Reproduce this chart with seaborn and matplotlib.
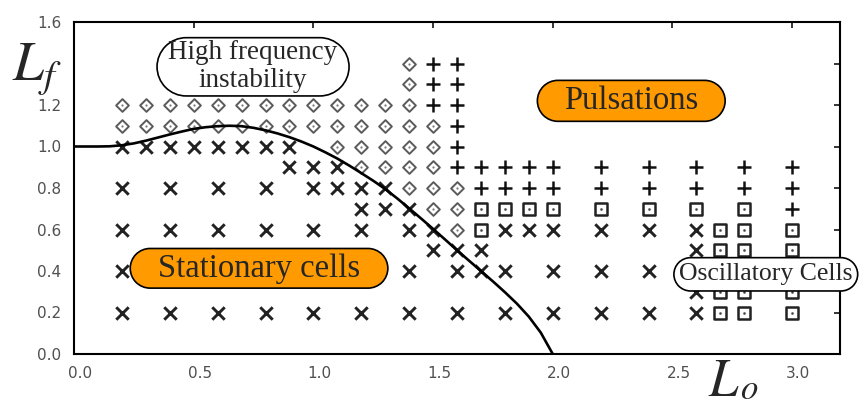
import numpy as np
import pandas as pd
import matplotlib
matplotlib.use("Agg")
import matplotlib.pyplot as plt
import seaborn as sns
from matplotlib.path import Path
from matplotlib.transforms import ScaledTranslation

# ---------------- data ----------------
# Stationary cells (x markers)
stationary_x = [0.2, 0.3, 0.4, 0.5, 0.6, 0.7, 0.8, 0.9,
                0.9, 1.0, 1.1,
                0.2, 0.4, 0.6, 0.8, 1.0, 1.1, 1.2, 1.3,
                1.2, 1.3, 1.4,
                0.2, 0.4, 0.6, 0.8, 1.0, 1.2, 1.4, 1.5, 1.8, 1.9, 2.0, 2.2, 2.4, 2.6,
                1.5, 1.6, 1.7, 2.6,
                0.2, 0.4, 0.6, 0.8, 1.0, 1.2, 1.4, 1.6, 1.7, 1.8, 2.0, 2.2, 2.4, 2.6,
                2.6,
                0.2, 0.4, 0.6, 0.8, 1.0, 1.2, 1.4, 1.6, 1.8, 2.0, 2.2, 2.4, 2.6]
stationary_y = [1.0, 1.0, 1.0, 1.0, 1.0, 1.0, 1.0, 1.0,
                0.9, 0.9, 0.9,
                0.8, 0.8, 0.8, 0.8, 0.8, 0.8, 0.8, 0.8,
                0.7, 0.7, 0.7,
                0.6, 0.6, 0.6, 0.6, 0.6, 0.6, 0.6, 0.6, 0.6, 0.6, 0.6, 0.6, 0.6, 0.6,
                0.5, 0.5, 0.5, 0.5,
                0.4, 0.4, 0.4, 0.4, 0.4, 0.4, 0.4, 0.4, 0.4, 0.4, 0.4, 0.4, 0.4, 0.4,
                0.3,
                0.2, 0.2, 0.2, 0.2, 0.2, 0.2, 0.2, 0.2, 0.2, 0.2, 0.2, 0.2, 0.2]

# High frequency instability (diamonds)
highfreq_x = [1.4,
              1.4,
              0.2, 0.3, 0.4, 0.5, 0.6, 0.7, 0.8, 0.9, 1.0, 1.1, 1.2, 1.3, 1.4,
              0.2, 0.3, 0.4, 0.5, 0.6, 0.7, 0.8, 0.9, 1.0, 1.1, 1.2, 1.3, 1.4, 1.5,
              1.1, 1.2, 1.3, 1.4, 1.5,
              1.2, 1.3, 1.4, 1.5,
              1.4, 1.5, 1.6,
              1.5, 1.6,
              1.6]
highfreq_y = [1.4,
              1.3,
              1.2, 1.2, 1.2, 1.2, 1.2, 1.2, 1.2, 1.2, 1.2, 1.2, 1.2, 1.2, 1.2,
              1.1, 1.1, 1.1, 1.1, 1.1, 1.1, 1.1, 1.1, 1.1, 1.1, 1.1, 1.1, 1.1, 1.1,
              1.0, 1.0, 1.0, 1.0, 1.0,
              0.9, 0.9, 0.9, 0.9,
              0.8, 0.8, 0.8,
              0.7, 0.7,
              0.6]

# Pulsations (plus markers)
pulsation_x = [1.5, 1.6,
               1.5, 1.6,
               1.5, 1.6,
               1.6,
               1.6,
               1.6, 1.7, 1.8, 1.9, 2.0, 2.2, 2.4, 2.6, 2.8, 3.0,
               1.7, 1.8, 1.9, 2.0, 2.2, 2.4, 2.6, 2.8, 3.0,
               3.0]
pulsation_y = [1.4, 1.4,
               1.3, 1.3,
               1.2, 1.2,
               1.1,
               1.0,
               0.9, 0.9, 0.9, 0.9, 0.9, 0.9, 0.9, 0.9, 0.9, 0.9,
               0.8, 0.8, 0.8, 0.8, 0.8, 0.8, 0.8, 0.8, 0.8,
               0.7]

# Oscillatory cells (squares)
oscillatory_x = [1.7, 1.8, 1.9, 2.0, 2.2, 2.4, 2.6, 2.8,
                 1.7, 2.7, 2.8, 3.0,
                 2.7, 2.8, 3.0,
                 2.7, 2.8, 3.0,
                 2.7, 2.8, 3.0,
                 2.7, 2.8, 3.0]
oscillatory_y = [0.7, 0.7, 0.7, 0.7, 0.7, 0.7, 0.7, 0.7,
                 0.6, 0.6, 0.6, 0.6,
                 0.5, 0.5, 0.5,
                 0.4, 0.4, 0.4,
                 0.3, 0.3, 0.3,
                 0.2, 0.2, 0.2]

# Neutral stability curve
curve_x = [0.0, 0.1, 0.15, 0.2, 0.25, 0.3, 0.35, 0.4, 0.45, 0.5, 0.55, 0.6, 0.65,
           0.7, 0.75, 0.8, 0.85, 0.9, 0.95, 1.0, 1.05, 1.1, 1.15, 1.2, 1.25,
           1.3, 1.35, 1.4, 1.45, 1.5, 1.55, 1.6, 1.65, 1.7, 1.75, 1.8, 1.85,
           1.9, 1.95, 2.0]
curve_y = [1.0, 1.0, 1.001, 1.006, 1.015, 1.028, 1.043, 1.058, 1.072, 1.085,
           1.093, 1.098, 1.100, 1.098, 1.090, 1.078, 1.063, 1.045, 1.024, 1.0,
           0.972, 0.942, 0.908, 0.872, 0.835, 0.795, 0.750, 0.702, 0.653, 0.603,
           0.552, 0.500, 0.450, 0.400, 0.350, 0.298, 0.243, 0.180, 0.103, 0.0]

x_ticks = [0.0, 0.5, 1.0, 1.5, 2.0, 2.5, 3.0]
x_tick_labels = ["0.0", "0.5", "1.0", "1.5", "2.0", "2.5", "3.0"]
y_ticks = [0.0, 0.2, 0.4, 0.6, 0.8, 1.0, 1.2, 1.4, 1.6]
y_tick_labels = ["0.0", "0.2", "0.4", "0.6", "0.8", "1.0", "1.2", "", "1.6"]

# ---------------- style ----------------
sns.set_style("white")
plt.rcParams["font.family"] = ["DejaVu Sans"]
plt.rcParams["mathtext.fontset"] = "stix"

ORANGE = "#ff9a00"
SERIF = ["Liberation Serif", "DejaVu Serif"]


def pill(hpad, vpad):
    def style(x0, y0, width, height, mutation_size):
        x0 = x0 - hpad * mutation_size
        y0 = y0 - vpad * mutation_size
        w = width + 2 * hpad * mutation_size
        h = height + 2 * vpad * mutation_size
        r = min(h / 2.0, w / 2.0)
        arc_r = Path.arc(-90, 90)
        arc_l = Path.arc(90, 270)
        right = arc_r.vertices * r + [x0 + w - r, y0 + r]
        left = arc_l.vertices * r + [x0 + r, y0 + r]
        verts = np.concatenate([right, left, [right[0]], [right[0]]])
        codes = np.concatenate([arc_r.codes,
                                [Path.LINETO], arc_l.codes[1:],
                                [Path.LINETO, Path.CLOSEPOLY]])
        return Path(verts, codes)
    return style


fig = plt.figure(figsize=(8.66, 4.05), dpi=100)
ax = fig.add_axes([74 / 866, 1 - 354 / 405, (840 - 74) / 866, (354 - 22) / 405])

df_st = pd.DataFrame({"Lo": stationary_x, "Lf": stationary_y})
df_hf = pd.DataFrame({"Lo": highfreq_x, "Lf": highfreq_y})
df_pu = pd.DataFrame({"Lo": pulsation_x, "Lf": pulsation_y})
df_os = pd.DataFrame({"Lo": oscillatory_x, "Lf": oscillatory_y})
df_cv = pd.DataFrame({"Lo": curve_x, "Lf": curve_y})

sns.scatterplot(data=df_st, x="Lo", y="Lf", ax=ax, marker="x", s=80,
                color="#222222", linewidth=2.1, zorder=3)
sns.scatterplot(data=df_hf, x="Lo", y="Lf", ax=ax, marker="D", s=42,
                facecolor="white", edgecolor="#5a5a5a", linewidth=1.4, zorder=3)
sns.scatterplot(data=df_hf, x="Lo", y="Lf", ax=ax, marker="o", s=2.5,
                color="#777777", linewidth=0, zorder=3)
sns.scatterplot(data=df_pu, x="Lo", y="Lf", ax=ax, marker="+", s=88,
                color="#111111", linewidth=1.8, zorder=3)
sns.scatterplot(data=df_os, x="Lo", y="Lf", ax=ax, marker="s", s=74,
                facecolor="white", edgecolor="#222222", linewidth=1.8, zorder=3)
sns.scatterplot(data=df_os, x="Lo", y="Lf", ax=ax, marker="o", s=3.5,
                color="#444444", linewidth=0, zorder=3)
sns.lineplot(data=df_cv, x="Lo", y="Lf", ax=ax, color="black", linewidth=1.9,
             sort=False, estimator=None, zorder=4)

ax.set_xlim(0, 3.2)
ax.set_ylim(0, 1.6)
ax.set_xticks(x_ticks)
ax.set_xticklabels(x_tick_labels)
ax.set_yticks(y_ticks)
ax.set_yticklabels(y_tick_labels)
ax.set_xlabel("")
ax.set_ylabel("")
ax.tick_params(direction="in", top=True, right=True, length=4.5, width=1.1,
               labelsize=11, labelcolor="#505050", color="black", pad=9)
for lab in ax.get_xticklabels():
    lab.set_transform(lab.get_transform() + ScaledTranslation(6 / 100, 0, fig.dpi_scale_trans))
for sp in ax.spines.values():
    sp.set_visible(True)
    sp.set_linewidth(1.5)
    sp.set_color("black")

# region labels
ax.text(0.748, 1.384, "High frequency\ninstability", ha="center", va="center",
        multialignment="center", fontsize=19.5, family=SERIF, linespacing=1.15,
        zorder=6, bbox=dict(boxstyle=pill(0.42, 0.1), facecolor="white",
                            edgecolor="black", linewidth=1.2))
ax.text(2.328, 1.22, "Pulsations", ha="center", va="center", fontsize=23.5,
        family=SERIF, zorder=6,
        bbox=dict(boxstyle=pill(0.82, 0.16), facecolor=ORANGE,
                  edgecolor="black", linewidth=1.2))
ax.text(0.773, 0.413, "Stationary cells", ha="center", va="center", fontsize=23.5,
        family=SERIF, zorder=6,
        bbox=dict(boxstyle=pill(0.85, 0.14), facecolor=ORANGE,
                  edgecolor="black", linewidth=1.2))
ax.text(2.89, 0.384, "Oscillatory Cells", ha="center", va="center", fontsize=18.5,
        family=SERIF, zorder=6, clip_on=False,
        bbox=dict(boxstyle=pill(0.2, 0.22), facecolor="white",
                  edgecolor="black", linewidth=1.2))

# axis symbols
fig.text(12 / 866, 1 - 80 / 405, r"$L_f$", fontsize=40, ha="left", va="baseline")
fig.text(708 / 866, 1 - 396 / 405, r"$L$", fontsize=38, ha="left", va="baseline")
fig.text(740 / 866, 1 - 399 / 405, r"$o$", fontsize=25, ha="left", va="baseline")

fig.savefig("out.png", dpi=100)
